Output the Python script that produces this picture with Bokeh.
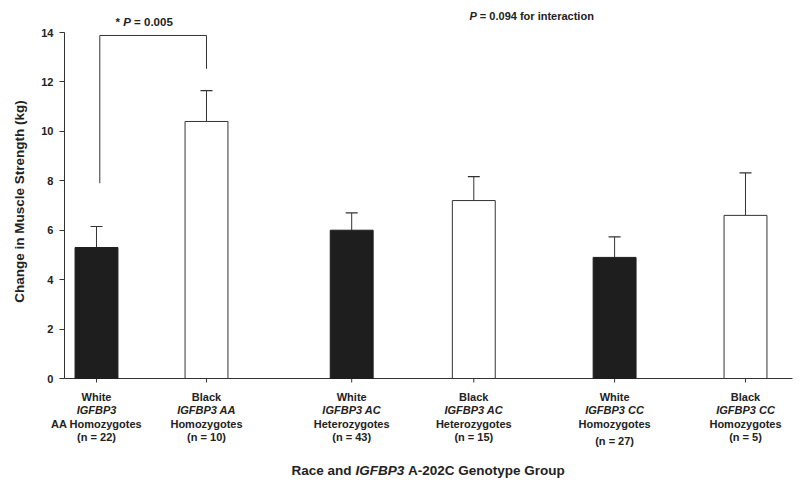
from math import pi
from bokeh.plotting import figure
from bokeh.models import ColumnDataSource, Range1d, FixedTicker, Label, Whisker, TeeHead
from bokeh.embed import file_html
from bokeh.resources import INLINE

# ---- data ----
races = ["White", "Black", "White", "Black", "White", "Black"]
genotypes = ["IGFBP3", "IGFBP3 AA", "IGFBP3 AC", "IGFBP3 AC", "IGFBP3 CC", "IGFBP3 CC"]
groups = ["AA Homozygotes", "Homozygotes", "Heterozygotes", "Heterozygotes", "Homozygotes", "Homozygotes"]
n_values = [22, 10, 43, 15, 27, 5]
means = [5.3, 10.4, 6.0, 7.2, 4.9, 6.6]
sems = [0.85, 1.25, 0.70, 0.97, 0.83, 1.72]
x_pos = [1.0, 2.0, 3.32, 4.43, 5.71, 6.9]
y_ticks = [0, 2, 4, 6, 8, 10, 12, 14]
bracket_x = [1.03, 1.03, 2.0, 2.0]
bracket_y = [7.9, 13.88, 13.88, 12.53]

FONT = "Liberation Sans"
TXT = "#222222"
AX = "#333333"
NB = "\u00a0"

# axis placement inside the full-canvas frame (data units)
X_AXIS_LEFT, X_AXIS_RIGHT = 0.709, 7.327

fills = ["#1e1e1e" if r == "White" else "#ffffff" for r in races]
lines = ["#1e1e1e" if r == "White" else AX for r in races]
uppers = [m + s for m, s in zip(means, sems)]

src = ColumnDataSource(dict(x=x_pos, top=means, upper=uppers, fill=fills, line=lines))

# frame spans the whole canvas so that no text is clipped; the y axis is placed
# at a fixed location and drawn only over 0..14.
p = figure(width=800, height=484, output_backend="svg", toolbar_location=None,
           x_range=Range1d(0.1273, 7.4), y_range=Range1d(-4.289, 15.295),
           min_border=0, min_border_left=0, min_border_right=0,
           min_border_top=0, min_border_bottom=0)
p.outline_line_color = None
p.xgrid.visible = False
p.ygrid.visible = False
p.xaxis.visible = False

# x axis line at y = 0 and outward ticks at each group
p.segment(x0=[X_AXIS_LEFT], x1=[X_AXIS_RIGHT], y0=[0], y1=[0], line_color=AX, line_width=1)
p.scatter(x=x_pos, y=[0] * len(x_pos), marker="dash", angle=pi / 2, size=8,
          line_color=AX, line_width=1)

p.vbar(x="x", top="top", bottom=0, width=0.39, source=src,
       fill_color="fill", line_color="line", line_width=1)

wh = Whisker(source=src, base="x", upper="upper", lower="top", dimension="height",
             line_color=AX, line_width=1,
             upper_head=TeeHead(size=12, line_color=AX, line_width=1.2), lower_head=None)
p.add_layout(wh)

p.line(bracket_x, bracket_y, line_color=AX, line_width=1)

# y axis
ya = p.yaxis[0]
ya.fixed_location = X_AXIS_LEFT
ya.bounds = (0, 14)
ya.ticker = FixedTicker(ticks=y_ticks)
ya.minor_tick_line_color = None
ya.major_tick_in = 0
ya.major_tick_out = 5
ya.axis_line_color = AX
ya.major_tick_line_color = AX
ya.major_label_text_font = FONT
ya.major_label_text_font_style = "bold"
ya.major_label_text_font_size = "11px"
ya.major_label_text_color = TXT
ya.major_label_standoff = 6

# labels: x in data or screen px from left, y in screen px from bottom
def lab(text, x, y, xu="data", style="bold", size="11px", align="center", angle=0):
    p.add_layout(Label(x=x, y=y, x_units=xu, y_units="screen", text=text, angle=angle,
                       text_align=align, text_baseline="middle", text_font=FONT,
                       text_font_style=style, text_font_size=size, text_color=TXT))

lab("Change in Muscle Strength (kg)", 19, 283, xu="screen", size="13.5px", angle=pi / 2)

for i, xp in enumerate(x_pos):
    lab(races[i], xp, 87.5)
    lab(genotypes[i], xp, 74.5, style="bold italic")
    lab(groups[i], xp, 61)
    lab("(n = %d)" % n_values[i], xp, 44 if i == 4 else 47.5)

# x axis title (mixed styles)
lab("Race and", 291, 14, xu="screen", size="13.5px", align="left")
lab("IGFBP3", 355, 14, xu="screen", style="bold italic", size="13.5px", align="left")
lab("A-202C Genotype Group", 407.5, 14, xu="screen", size="13.5px", align="left")

# significance annotations
lab("*", 115, 462.5, xu="screen", size="11.5px", align="left")
lab("P", 122.7, 462.5, xu="screen", style="bold italic", size="11.5px", align="left")
lab(NB + "=" + NB + "0.005", 130.4, 462.5, xu="screen", size="11.5px", align="left")

lab("P", 469, 468.4, xu="screen", style="bold italic", size="11px", align="left")
lab(NB + "=" + NB + "0.094 for interaction", 476.3, 468.4, xu="screen", size="11px", align="left")

open("out.html", "w").write(file_html(p, INLINE))
